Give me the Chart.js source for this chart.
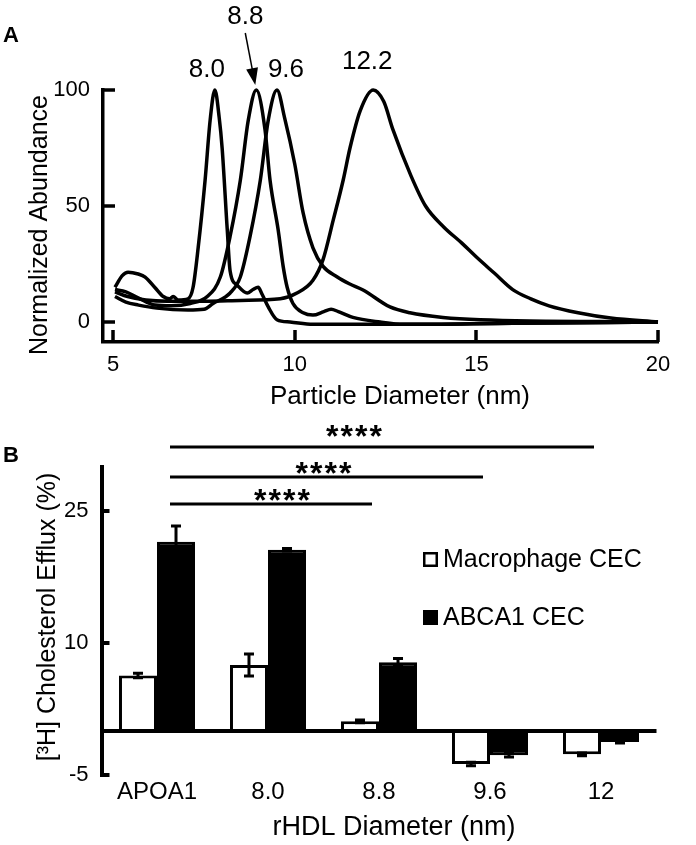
<!DOCTYPE html>
<html>
<head>
<meta charset="utf-8">
<script src="https://cdn.jsdelivr.net/npm/chart.js@4.4.1/dist/chart.umd.min.js"></script>
<style>
  body { margin: 0; background: #fff; }
  #wrap { position: relative; width: 696px; height: 845px; }
  canvas { position: absolute; left: 0; }
</style>
</head>
<body>
<div id="wrap">
  <canvas id="graphA" width="696" height="420" style="top:0px"></canvas>
  <canvas id="graphB" width="696" height="425" style="top:420px"></canvas>
</div>
<script>
/* ------------------------ Données panneau A ------------------------ */

// [diamètre (nm), abondance normalisée]
const curve80 = [[5.05,15],[5.25,20],[5.41,21.5],[5.69,20.7],[5.88,19.4],[6.16,14.7],[6.38,11],[6.55,10],[6.65,11],[6.79,9.5],[7.06,10],[7.2,15],[7.34,32],[7.53,61],[7.67,87],[7.8,100],[7.92,88],[8.0,75],[8.14,40],[8.22,22],[8.41,16],[8.69,12.5],[8.85,14],[8.99,15],[9.1,12],[9.27,6.5],[9.51,1],[9.87,0],[10.5,-1],[13,-1],[16,-0.5],[20,0]];
const curve88 = [[5.05,14],[5.35,13],[5.7,10.3],[6.15,7.3],[6.6,7],[7.12,8],[7.59,11],[7.95,19.4],[8.22,37],[8.5,61],[8.72,87],[8.94,100],[9.18,83],[9.32,61],[9.54,40],[9.68,24],[9.79,15],[9.95,8],[10.23,4],[10.5,3],[10.8,4.5],[11.0,5.5],[11.2,4.5],[11.6,2],[12.35,0],[13,-1],[16,-0.5],[20,0]];
const curve96 = [[5.05,11],[5.35,8.6],[5.7,7.3],[6.2,6],[7.06,5.2],[7.5,5.5],[7.75,8],[8.22,12.5],[8.5,19.4],[8.77,37],[9.05,61],[9.27,87],[9.51,100],[9.72,88],[10.0,68],[10.23,47],[10.5,32],[10.78,24],[11.17,19.4],[11.5,16.5],[11.88,13.8],[12.62,6.5],[13.17,4],[14.08,2],[15.1,1],[20,0]];
const curve122 = [[5.05,13],[5.4,11],[5.9,9.5],[6.5,9],[7.5,9],[8.5,9.3],[9.6,10],[10.06,12.5],[10.5,18],[10.78,27],[11.06,44],[11.33,61],[11.52,75],[11.8,91],[12.16,100],[12.45,95],[12.7,83],[13.2,63],[13.6,50],[14.1,41],[14.6,34],[15.0,28],[15.5,21],[16.0,14],[16.5,10],[17.0,7],[17.8,4],[18.7,1.7],[20,0]];
const peakLabels = ["8.0", "8.8", "9.6", "12.2"];
const xTicksA = [5, 10, 15, 20];
const yTicksA = [0, 50, 100];

/* ------------------------ Données panneau B ------------------------ */

const categories = ["APOA1", "8.0", "8.8", "9.6", "12"];
const macroCEC = [6.3, 7.5, 1.1, -3.75, -2.65];
const macroErr = [0.25, 1.25, 0.15, 0.2, 0.15];
const abcaCEC = [21.5, 20.6, 7.8, -2.75, -1.25];
const abcaErr = [1.8, 0.15, 0.45, 0.2, 0.1];
const yTicksB = [-5, 0, 10, 25];
// comparaisons APOA1 vs 12 / 9.6 / 8.8
const sigTargets = ["12", "9.6", "8.8"];
const sigLevels = [32.3, 28.9, 25.8];
const sigText = "****";

/* ------------------------ styles ------------------------ */

const FONT = "'Liberation Sans', Arial, Helvetica, sans-serif";
Chart.defaults.font.family = FONT;
Chart.defaults.color = "#000";

// décalages des étiquettes de pics (px) par rapport au sommet
const peakOffsets = [[-8, -20], [-11, -73], [9, -20], [-6, -28]];
const starOffsets = [[-28, 18], [-3, 11], [11, 11]];

/* ------------------------ plugins ------------------------ */

const tickMarks = {
    id: "tickMarks",
    afterDraw(chart, args, opts) {
        const ctx = chart.ctx;
        const area = chart.chartArea;
        ctx.save();
        ctx.strokeStyle = "#000";
        ctx.lineWidth = opts.width;
        chart.scales.y.ticks.forEach(t => {
            if (t.label === "") return;
            const py = Math.round(chart.scales.y.getPixelForValue(t.value));
            ctx.beginPath();
            ctx.moveTo(area.left, py);
            ctx.lineTo(area.left + opts.len, py);
            ctx.stroke();
        });
        if (opts.xMarks) {
            chart.scales.x.ticks.forEach(t => {
                const px = Math.round(chart.scales.x.getPixelForValue(t.value));
                ctx.beginPath();
                ctx.moveTo(px, area.bottom);
                ctx.lineTo(px, area.bottom - opts.len);
                ctx.stroke();
            });
        }
        ctx.restore();
    }
};

const panelText = {
    id: "panelText",
    afterDraw(chart, args, opts) {
        const ctx = chart.ctx;
        ctx.save();
        ctx.fillStyle = "#000";
        // lettre du panneau
        ctx.font = "bold 22px " + FONT;
        ctx.textAlign = "left";
        ctx.textBaseline = "alphabetic";
        ctx.fillText(opts.letter, 3, opts.letterY);
        // titre axe x
        ctx.font = opts.xSize + "px " + FONT;
        ctx.textAlign = "center";
        ctx.textBaseline = "middle";
        ctx.fillText(opts.xTitle, opts.xTitleX, opts.xTitleY);
        // titre axe y
        ctx.translate(opts.yTitleX, opts.yTitleY);
        ctx.rotate(-Math.PI / 2);
        ctx.font = opts.ySize + "px " + FONT;
        ctx.fillText(opts.yTitle, 0, 0);
        ctx.restore();
    }
};

const peakNotes = {
    id: "peakNotes",
    afterDraw(chart) {
        const ctx = chart.ctx;
        ctx.save();
        ctx.fillStyle = "#000";
        ctx.strokeStyle = "#000";
        ctx.font = "26px " + FONT;
        ctx.textAlign = "center";
        ctx.textBaseline = "middle";
        chart.data.datasets.forEach((ds, i) => {
            let top = ds.data[0];
            ds.data.forEach(p => { if (p.y > top.y) top = p; });
            const px = chart.scales.x.getPixelForValue(top.x);
            const py = chart.scales.y.getPixelForValue(top.y);
            ctx.fillText(peakLabels[i], px + peakOffsets[i][0], py + peakOffsets[i][1]);
            if (peakLabels[i] === "8.8") {
                // flèche vers le pic 8.8
                const x0 = px - 11, y0 = py - 57, x1 = px - 1, y1 = py - 5;
                const ang = Math.atan2(y1 - y0, x1 - x0);
                ctx.lineWidth = 1.5;
                ctx.beginPath();
                ctx.moveTo(x0, y0);
                ctx.lineTo(x1 - 12 * Math.cos(ang), y1 - 12 * Math.sin(ang));
                ctx.stroke();
                ctx.beginPath();
                ctx.moveTo(x1, y1);
                ctx.lineTo(x1 - 17 * Math.cos(ang) + 6 * Math.sin(ang), y1 - 17 * Math.sin(ang) - 6 * Math.cos(ang));
                ctx.lineTo(x1 - 17 * Math.cos(ang) - 6 * Math.sin(ang), y1 - 17 * Math.sin(ang) + 6 * Math.cos(ang));
                ctx.closePath();
                ctx.fill();
            }
        });
        ctx.restore();
    }
};

const errorBars = {
    id: "errorBars",
    afterDatasetsDraw(chart) {
        const ctx = chart.ctx;
        const y = chart.scales.y;
        const errs = [macroErr, abcaErr];
        ctx.save();
        ctx.strokeStyle = "#000";
        ctx.lineWidth = 3;
        chart.data.datasets.forEach((ds, di) => {
            chart.getDatasetMeta(di).data.forEach((bar, j) => {
                const v = ds.data[j];
                const hi = y.getPixelForValue(v + errs[di][j]);
                const lo = y.getPixelForValue(v - errs[di][j]);
                ctx.beginPath();
                ctx.moveTo(bar.x, hi); ctx.lineTo(bar.x, lo);
                ctx.moveTo(bar.x - 5, hi); ctx.lineTo(bar.x + 5, hi);
                ctx.moveTo(bar.x - 5, lo); ctx.lineTo(bar.x + 5, lo);
                ctx.stroke();
            });
        });
        ctx.restore();
    }
};

const sigBrackets = {
    id: "sigBrackets",
    afterDraw(chart) {
        const ctx = chart.ctx;
        const x = chart.scales.x, y = chart.scales.y;
        ctx.save();
        ctx.strokeStyle = "#000";
        ctx.fillStyle = "#000";
        ctx.lineWidth = 3;
        ctx.font = "bold 32px " + FONT;
        ctx.textAlign = "center";
        ctx.textBaseline = "alphabetic";
        ctx.letterSpacing = "2px";
        sigTargets.forEach((cat, i) => {
            const x0 = x.getPixelForValue(0) + 13;
            const x1 = x.getPixelForValue(categories.indexOf(cat)) - 7;
            const py = Math.round(y.getPixelForValue(sigLevels[i]));
            ctx.beginPath();
            ctx.moveTo(x0, py); ctx.lineTo(x1, py);
            ctx.stroke();
            ctx.fillText(sigText, (x0 + x1) / 2 + starOffsets[i][0] + 1, py - starOffsets[i][1] + 18);
        });
        ctx.restore();
    }
};

const boxLegend = {
    id: "boxLegend",
    afterDraw(chart, args, opts) {
        const ctx = chart.ctx;
        ctx.save();
        ctx.font = "25px " + FONT;
        ctx.textAlign = "left";
        ctx.textBaseline = "middle";
        chart.data.datasets.forEach((ds, i) => {
            const [lx, ly] = opts.rows[i];
            ctx.fillStyle = ds.backgroundColor;
            ctx.fillRect(lx, ly, 15, 15);
            ctx.strokeStyle = "#000";
            ctx.lineWidth = 2.5;
            ctx.strokeRect(lx + 1.25, ly + 1.25, 12.5, 12.5);
            ctx.fillStyle = "#000";
            ctx.fillText(ds.label, lx + 20, ly + 8);
        });
        ctx.restore();
    }
};

/* ------------------------ graphique A ------------------------ */

const curves = [curve80, curve88, curve96, curve122];

const chartA = new Chart(document.getElementById("graphA"), {
    type: "line",
    data: {
        datasets: curves.map((c, i) => ({
            label: peakLabels[i],
            data: c.map(p => ({ x: p[0], y: p[1] })),
            borderColor: "#000",
            borderWidth: 3.5,
            pointRadius: 0,
            fill: false,
            cubicInterpolationMode: "monotone",
            clip: false
        }))
    },
    options: {
        responsive: false,
        animation: false,
        events: [],
        layout: { padding: { top: 90, right: 38, left: 0, bottom: 0 } },
        plugins: {
            legend: { display: false },
            tooltip: { enabled: false },
            tickMarks: { len: 12, width: 3.5, xMarks: true },
            panelText: {
                letter: "A", letterY: 42,
                xTitle: "Particle Diameter (nm)", xSize: 26, xTitleX: 400, xTitleY: 397,
                yTitle: "Normalized Abundance", ySize: 25, yTitleX: 40, yTitleY: 225
            }
        },
        scales: {
            x: {
                type: "linear", min: 4.72, max: 20,
                afterBuildTicks: s => { s.ticks = xTicksA.map(v => ({ value: v })); },
                afterFit: s => { s.height = 78; },
                grid: { display: false, drawTicks: false },
                border: { color: "#000", width: 3.5 },
                ticks: { font: { size: 22 }, padding: 10, maxRotation: 0 }
            },
            y: {
                min: -8.6, max: 100,
                afterBuildTicks: s => { s.ticks = yTicksA.map(v => ({ value: v })); },
                afterFit: s => { s.width = 103; },
                grid: { display: false, drawTicks: false },
                border: { color: "#000", width: 3.5 },
                ticks: { font: { size: 22 }, padding: 13 }
            }
        }
    },
    plugins: [tickMarks, peakNotes, panelText]
});

/* ------------------------ graphique B ------------------------ */

const chartB = new Chart(document.getElementById("graphB"), {
    type: "bar",
    data: {
        labels: categories,
        datasets: [
            { label: "Macrophage CEC", data: macroCEC, backgroundColor: "#fff", borderColor: "#000", borderWidth: 3 },
            { label: "ABCA1 CEC", data: abcaCEC, backgroundColor: "#000", borderColor: "#000", borderWidth: 3 }
        ]
    },
    options: {
        responsive: false,
        animation: false,
        events: [],
        categoryPercentage: 0.685,
        barPercentage: 1,
        layout: { padding: { top: 47, right: 39.5, left: 0, bottom: 0 } },
        plugins: {
            legend: { display: false },
            tooltip: { enabled: false },
            tickMarks: { len: 8, width: 4, xMarks: false },
            boxLegend: { rows: [[423, 132], [423, 190]] },
            panelText: {
                letter: "B", letterY: 42,
                xTitle: "rHDL Diameter (nm)", xSize: 27, xTitleX: 394, xTitleY: 408,
                yTitle: "[³H] Cholesterol Efflux (%)", ySize: 25, yTitleX: 48, yTitleY: 197
            }
        },
        scales: {
            x: {
                afterFit: s => { s.height = 70; },
                grid: { display: false, drawTicks: false },
                border: { display: false },
                ticks: { font: { size: 24 }, padding: 3 }
            },
            y: {
                min: -5, max: 30,
                afterBuildTicks: s => { s.ticks = yTicksB.map(v => ({ value: v })); },
                afterFit: s => { s.width = 101.5; },
                grid: {
                    drawTicks: false,
                    color: c => (c.tick && c.tick.value === 0 ? "#000" : "rgba(0,0,0,0)"),
                    lineWidth: 4
                },
                border: { color: "#000", width: 4 },
                ticks: { font: { size: 22 }, padding: 13, callback: v => (v === 0 ? "" : v) }
            }
        }
    },
    plugins: [errorBars, tickMarks, sigBrackets, boxLegend, panelText]
});
</script>
</body>
</html>
